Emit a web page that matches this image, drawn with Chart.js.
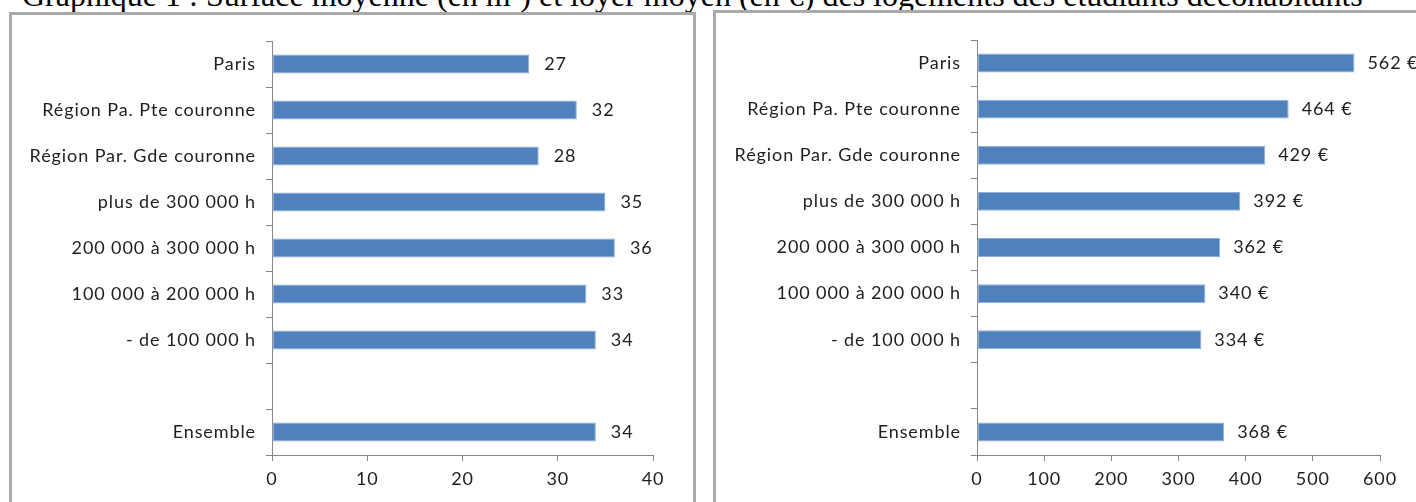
<!DOCTYPE html>
<html><head><meta charset="utf-8">
<script src="https://cdn.jsdelivr.net/npm/chart.js@4.4.1/dist/chart.umd.min.js"></script>
<style>
html,body{margin:0;padding:0;background:#fff;width:1416px;height:502px;overflow:hidden;position:relative;}
#title{position:absolute;left:22px;top:-21px;font-family:"Liberation Serif",serif;font-size:32px;line-height:32px;white-space:nowrap;color:#000;}
.panel{position:absolute;border:3px solid #a9a9a9;box-sizing:border-box;background:#fff}
#p1{left:9px;top:12px;width:687px;height:520px;}
#p2{left:713px;top:10px;width:740px;height:520px;}
.cw{position:absolute;top:0;height:502px;}
#w1{left:0;width:700px;}
#w2{left:700px;width:716px;}
</style></head>
<body>
<div id="title">Graphique 1 : Surface moyenne (en m²) et loyer moyen (en €) des logements des étudiants décohabitants</div>
<div class="panel" id="p1"></div>
<div class="panel" id="p2"></div>
<div class="cw" id="w1"><canvas id="c1"></canvas></div>
<div class="cw" id="w2"><canvas id="c2"></canvas></div>
<script>
// ---- data ----
const categories = ["Paris","Région Pa. Pte couronne","Région Par. Gde couronne","plus de 300 000 h","200 000 à 300 000 h","100 000 à 200 000 h","- de 100 000 h","","Ensemble"];
const surfaceValues = [27, 32, 28, 35, 36, 33, 34, null, 34];
const loyerValues = [562, 464, 429, 392, 362, 340, 334, null, 368];
const surfaceTicks = [0, 10, 20, 30, 40];
const loyerTicks = [0, 100, 200, 300, 400, 500, 600];

const FONT = "Lato";
const FS = 18;
const TXT = "#1e1e1e";
const AX = "#868686";
const BAR = "#4f81bd";

const spacing = {
  id: 'spacing',
  beforeDraw(chart) { try { chart.ctx.letterSpacing = '0.9px'; } catch (e) {} }
};

const valueLabels = {
  id: 'valueLabels',
  afterDatasetsDraw(chart, args, opts) {
    const ctx = chart.ctx;
    const meta = chart.getDatasetMeta(0);
    const data = chart.data.datasets[0].data;
    ctx.save();
    ctx.font = FS + "px " + FONT;
    ctx.fillStyle = TXT;
    ctx.textAlign = 'left';
    ctx.textBaseline = 'middle';
    meta.data.forEach((bar, i) => {
      const v = data[i];
      if (v == null) return;
      ctx.fillText(opts.format(v), bar.x + opts.offset, bar.y);
    });
    ctx.restore();
  }
};

function makeChart(id, values, ticks, yWidth, pad, fmt, offset) {
  return new Chart(document.getElementById(id), {
    type: 'bar',
    data: {
      labels: categories,
      datasets: [{
        data: values,
        backgroundColor: BAR,
        borderColor: '#8eaedb',
        borderWidth: 1,
        borderSkipped: false,
        barPercentage: 0.41,
        categoryPercentage: 1
      }]
    },
    options: {
      indexAxis: 'y',
      responsive: true,
      maintainAspectRatio: false,
      animation: false,
      events: [],
      layout: { padding: pad },
      plugins: {
        legend: { display: false },
        tooltip: { enabled: false },
        title: { display: false },
        valueLabels: { format: fmt, offset: offset }
      },
      scales: {
        x: {
          type: 'linear',
          min: ticks[0],
          max: ticks[ticks.length - 1],
          afterBuildTicks: (s) => { s.ticks = ticks.map(v => ({ value: v })); },
          afterFit: (s) => { s.height = 40; },
          grid: { drawOnChartArea: false, tickLength: 6, color: AX, lineWidth: 1 },
          border: { color: AX, width: 1 },
          ticks: { color: TXT, font: { family: FONT, size: FS }, padding: 7, maxRotation: 0 }
        },
        y: {
          afterFit: (s) => { s.width = yWidth; },
          grid: { drawOnChartArea: false, tickLength: 6, color: AX, lineWidth: 1, offset: true },
          border: { color: AX, width: 1 },
          ticks: { color: TXT, font: { family: FONT, size: FS }, padding: 10, autoSkip: false }
        }
      }
    },
    plugins: [spacing, valueLabels]
  });
}

makeChart('c1', surfaceValues, surfaceTicks, 272, { left: 0, top: 41, right: 47, bottom: 7 }, v => String(v), 15);
makeChart('c2', loyerValues, loyerTicks, 277, { left: 0, top: 40, right: 36, bottom: 7 }, v => v + " €", 13);
</script>
</body></html>
